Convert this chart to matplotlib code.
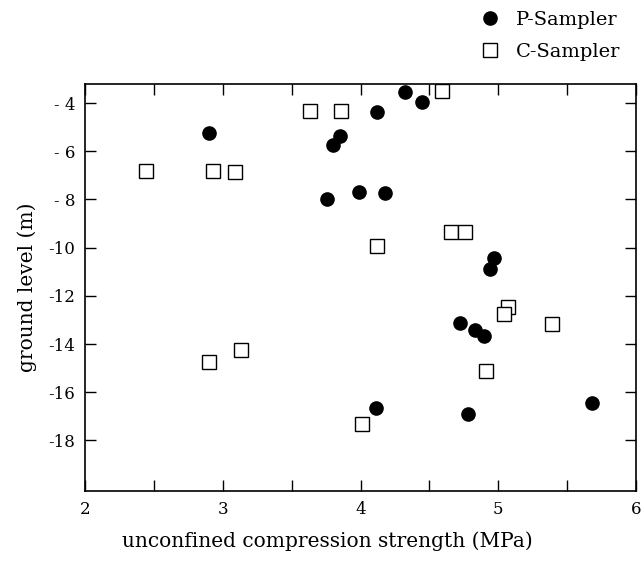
import matplotlib
matplotlib.use("Agg")
import matplotlib.pyplot as plt

# === Data ===
p_strength = [2.90, 4.32, 4.45, 4.12, 3.85, 3.80, 3.76, 3.99, 4.18,
              4.97, 4.94, 4.72, 4.83, 4.90, 4.11, 4.78, 5.68]
p_level = [-5.26, -3.56, -3.96, -4.37, -5.36, -5.74, -8.00, -7.68, -7.74,
           -10.45, -10.90, -13.13, -13.43, -13.67, -16.64, -16.92, -16.45]

c_strength = [2.44, 2.93, 3.09, 3.63, 3.13, 2.90, 4.59, 3.86, 4.66, 4.76,
              4.12, 5.07, 5.04, 5.39, 4.91, 4.01]
c_level = [-6.83, -6.83, -6.88, -4.32, -14.26, -14.75, -3.51, -4.32, -9.36,
           -9.35, -9.94, -12.46, -12.74, -13.15, -15.13, -17.31]

x_ticks = [2, 3, 4, 5, 6]
y_ticks = [-4, -6, -8, -10, -12, -14, -16, -18]
y_ticklabels = ["- 4", "- 6", "- 8", "-10", "-12", "-14", "-16", "-18"]

plt.rcParams["font.family"] = ["DejaVu Serif"]
plt.rcParams["font.size"] = 12

fig = plt.figure(figsize=(6.44, 5.66), dpi=100)
ax = fig.add_axes([0.132, 0.1325, 0.8556, 0.7195])

ax.plot(p_strength, p_level, "o", color="black", markersize=9.5,
        linestyle="none", label="P-Sampler")
ax.plot(c_strength, c_level, "s", markerfacecolor="white", markeredgecolor="black",
        markeredgewidth=1.0, markersize=10, linestyle="none", label="C-Sampler")

ax.set_xlim(2, 6)
ax.set_ylim(-20.1, -3.2)
ax.set_xticks(x_ticks)
ax.set_xticks([2.5, 3.5, 4.5, 5.5], minor=True)
ax.set_yticks(y_ticks)
ax.set_yticklabels(y_ticklabels)

ax.tick_params(which="both", direction="in", length=8, width=1,
               top=True, right=True, pad=7, labelsize=12)
for s in ax.spines.values():
    s.set_linewidth(1.2)

# label in the original sits a bit left of the axes centre
ax.set_xlabel("unconfined compression strength (MPa)", fontsize=14.5)
ax.xaxis.set_label_coords(0.44, -0.10)
ax.set_ylabel("ground level (m)", fontsize=14.5, labelpad=8)

fig.legend(loc="upper left", bbox_to_anchor=(0.718, 0.995), frameon=False,
           handletextpad=0.35, labelspacing=0.75, fontsize=14, borderaxespad=0)

plt.savefig("out.png", dpi=100)
